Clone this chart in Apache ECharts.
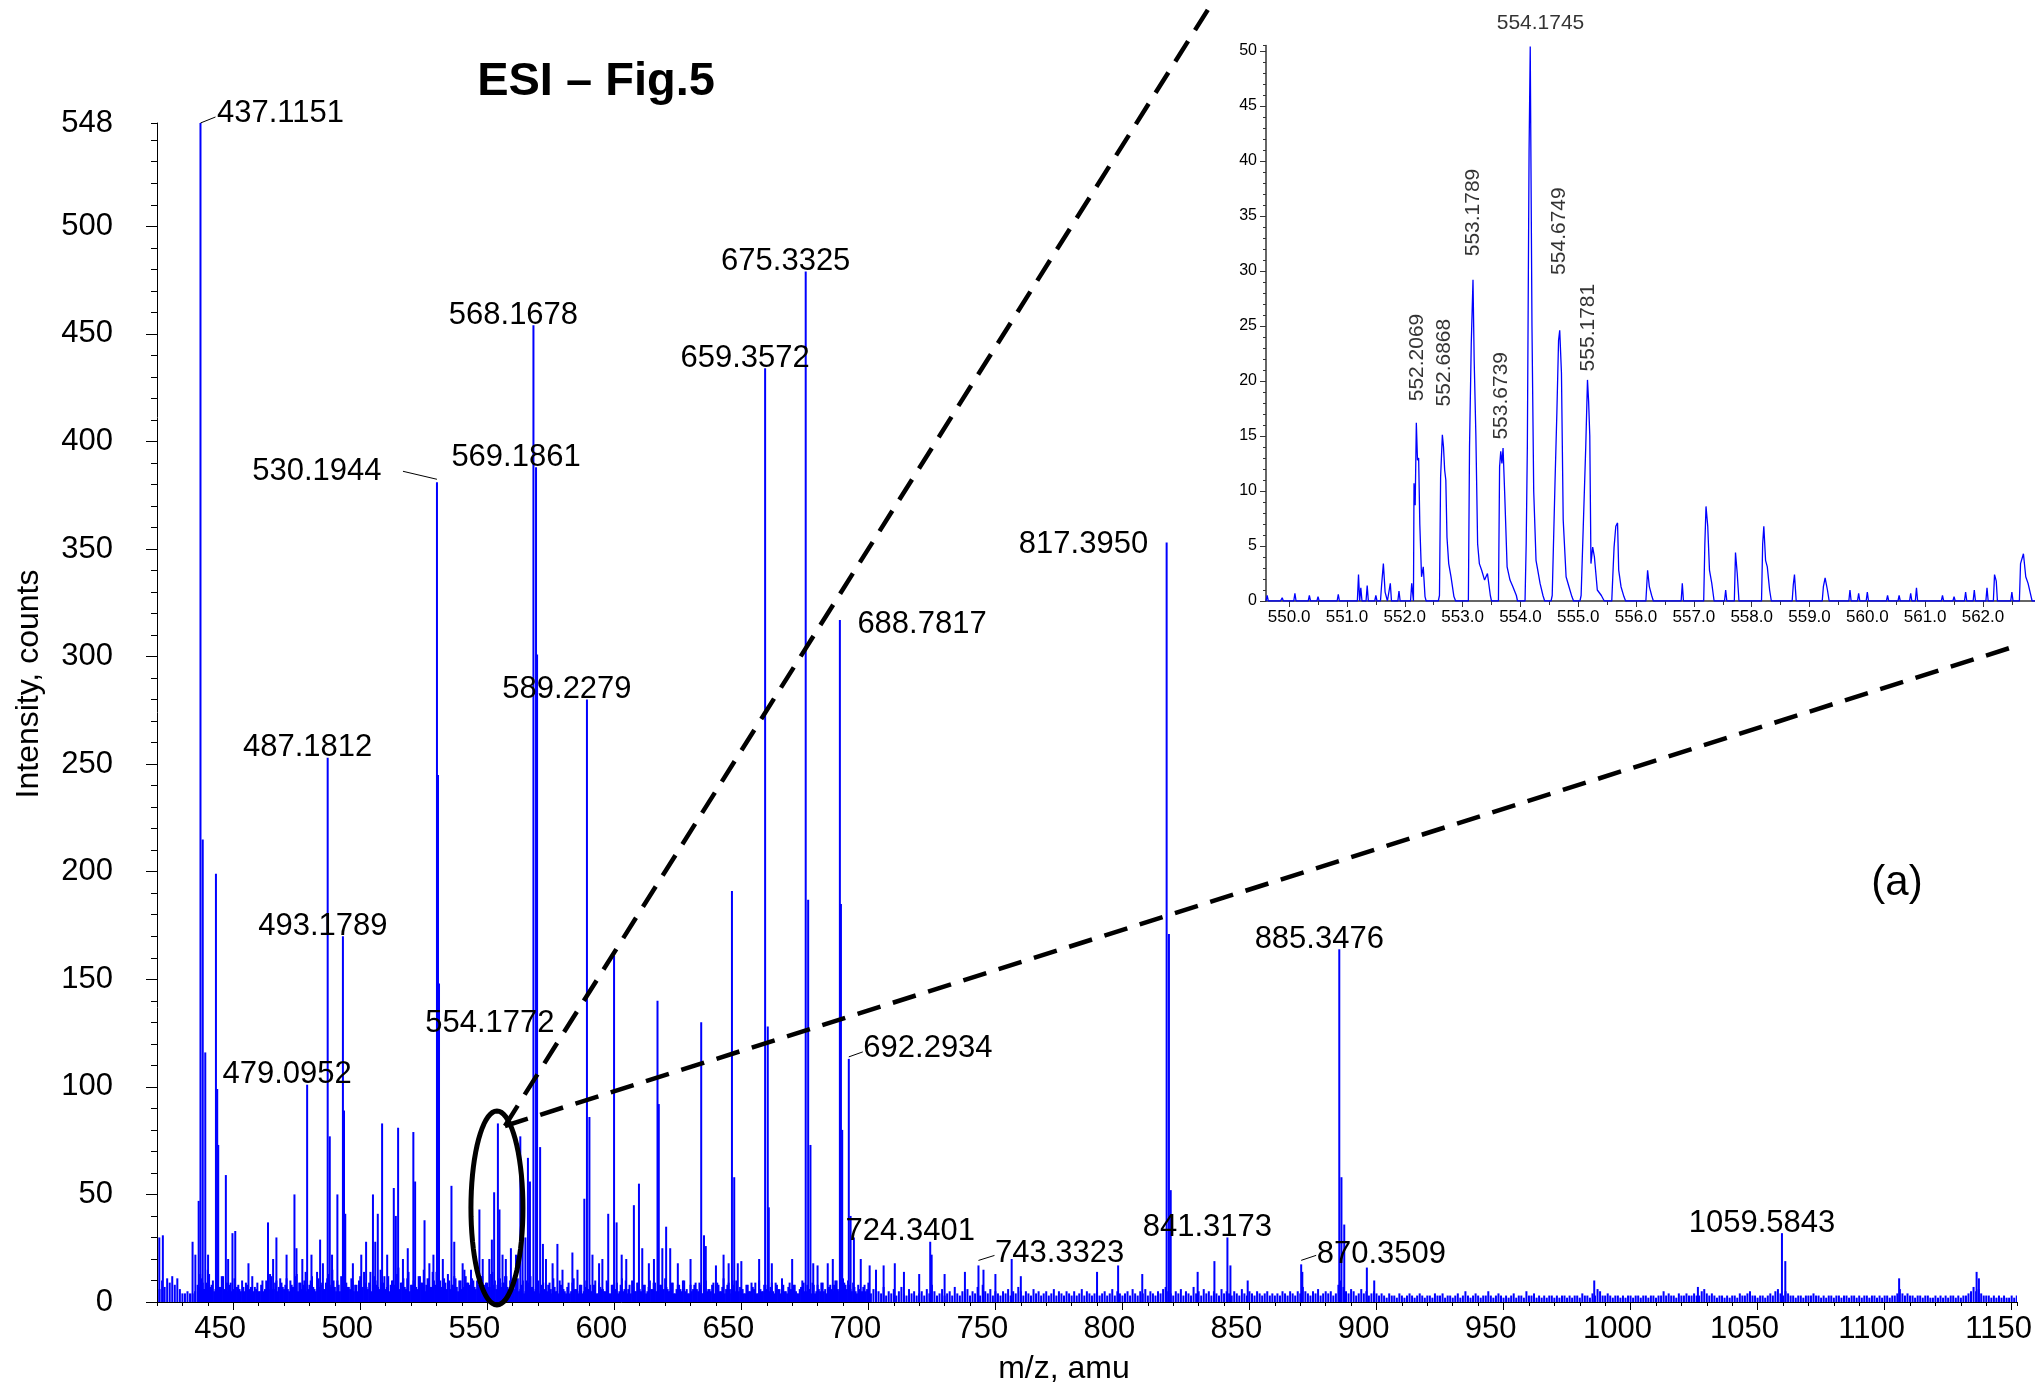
<!DOCTYPE html>
<html><head><meta charset="utf-8">
<script src="https://cdn.jsdelivr.net/npm/echarts@6/dist/echarts.min.js"></script>
<style>html,body{margin:0;padding:0;background:#fff}#c{width:2035px;height:1387px}</style>
</head><body><div id="c"></div>
<script>
// ---------- DATA ----------
const xMajorTicks = [450,500,550,600,650,700,750,800,850,900,950,1000,1050,1100,1150];
const yMajorTicks = [0,50,100,150,200,250,300,350,400,450,500];
const yTickLabels = [0,50,100,150,200,250,300,350,400,450,500,548];
const insetXTicks = [550,551,552,553,554,555,556,557,558,559,560,561,562];
const insetXMinor = [550.5,551.5,552.5,553.5,554.5,555.5,556.5,557.5,558.5,559.5,560.5,561.5,562.5];
const insetYTicks = [0,5,10,15,20,25,30,35,40,45,50];

// main spectrum: resolved peaks [m/z, counts]
const peaks = [
 [420.9,30],[434.0,28],[435.1,22],[436.4,47],[437.1151,548],[438.0,215],[439.0,116],[440.1,22],
 [443.2,199],[443.7,99],[444.1,73],[447.1,59],[449.7,32],[463.7,37],[467.0,30],[474.1,50],
 [479.0952,101],[484.2,29],[487.1812,253],[488.0,77],[491.0,50],[493.1789,170],[493.6,89],[494.1,41],
 [505.0,50],[506.9,41],[508.6,83],[513.2,53],[514.9,81],[520.9,79],[521.6,56],[525.3,38],
 [530.1944,381],[530.6,245],[531.0,148],[535.9,54],[546.9,43],[551.8,29],[552.7,51],[554.1772,83],[554.8,43],
 [563.0,77],[566.0,67],[566.8,56],[568.1678,454],[569.1861,388],[569.6,301],[570.8,72],[571.9,27],
 [577.6,27],[583.5,23],[588.2,48],[589.2279,280],[590.2,86],[597.6,41],[599.9,161],[600.9,37],
 [607.7,45],[609.7,55],[617.0,140],[617.5,92],[620.4,35],[634.2,130],[635.3,31],[646.3,191],[647.2,58],[648.6,18],
 [659.3572,434],[660.4,128],[660.8,44],[675.3325,479],[676.3,187],[677.2,73],[678.3,18],
 [688.7817,317],[689.2,185],[689.7,80],[692.2934,113],[693.0,40],[694.3,30],[700.5,17],[710.4,18],
 [724.3401,28],[724.9,22],[743.3323,17],[745.3,15],[756.4,20],[798.3,17],[807.8,13],
 [817.3950,353],[818.3,171],[819.0,52],[829.6,14],[836.2,19],[841.3173,30],[842.5,17],[849.3,10],
 [870.3509,17.5],[870.8,14],[885.3476,164],[886.2,58],[887.3,36],[896.2,16],[899.1,10],
 [985.7,10],[1026.5,7],[1059.5843,32],[1060.9,19],[1105.7,11],[1136.2,14],[1137.1,11]
];
// smaller spikes standing out of the baseline
const minorPeaks = [
 [422.3,31],[448.0,20],[450.8,33],[456.0,18],[465.7,20],[471.0,22],[474.9,25],[477.2,20],[480.8,22],
 [485.3,18],[488.9,22],[497.1,18],[500.4,22],[502.3,28],[505.9,28],[510.6,22],[514.0,40],[516.8,20],
 [518.7,25],[527.2,18],[528.8,22],[532.5,20],[537.0,28],[540.3,18],[543.6,15],[548.2,20],[550.8,20],
 [556.0,22],[557.3,20],[559.3,25],[561.3,22],[563.9,35],[565.0,30],[573.1,20],[575.7,18],[579.6,15],
 [585.5,15],[591.4,22],[594.0,18],[595.3,20],[602.9,22],[604.7,20],[611.0,25],[613.6,18],[615.6,20],
 [618.9,25],[622.0,25],[625.0,18],[630.0,20],[636.0,26],[640.0,17],[643.0,22],[645.0,18],[650.0,19],
 [657.0,20],[662.0,18],[670.0,20],[680.0,17],[684.0,18],[686.0,20],[697.0,20],[703.0,15],[706.0,17],
 [714.0,14],[720.0,13],[730.0,13],[738.0,14],[750.0,13],[760.0,12],[790.0,14]
];
const labeledMz = [437.1151,479.0952,487.1812,493.1789,530.1944,554.1772,568.1678,569.1861,589.2279,
 659.3572,675.3325,688.7817,692.2934,724.3401,743.3323,817.3950,841.3173,870.3509,885.3476,1059.5843];

// baseline noise, one value per m/z unit, starting at the given m/z
const noise421 = [6,10,7,11,9,12,8,11,6,4,4,5,4,4,5];
const noise436 = [
 8,13,9,6,15,7,10,6,9,7, 12,6,5,9,6,5,8,5,7,9, 5,7,5,6,5,8,5,10,6,12, 6,10,7,9,6,11,5,8,7,13,
 9,6,10,5,8,12,6,14,7,9, 6,11,8,15,7,10,5,9,12,7, 6,10,8,5,12,7,9,6,14,8, 10,7,15,9,6,12,8,10,7,16,
 9,11,6,14,8,10,7,12,9,15, 8,11,7,10,14,9,7,11,6,10, 8,12,7,10,6,15,9,8,11,7, 10,6,12,8,9,7,14,10,8,11,
 9,12,7,10,8];
const noiseHalf436 = [
 7,11,6,9,13,8,5,10,7,12,6,9, 8,5,11,7,6,10,5,8,6,12,7,9, 5,10,6,8,13,6,9,5,11,7,8,6,
 10,7,12,5,9,8,14,6,10,7,5,11, 8,6,9,13,7,10,5,8,12,6,9,7, 11,5,8,10,6,14,7,9,5,12,8,6,
 9,12,7,5,10,8,13,6,9,7,11,5, 8,10,6,12,9,5,11,7,14,8,6,10, 7,9,13,6,8,11,5,10,7,12,9,6,
 10,6,8,12,5,9,7,13,8,6,11,7, 9,12,6,10,
 6,9,5,8,4,10,6,7,5,9, 4,8,6,5,9,4,7,5,10,6, 5,7,4,9,6,5,8,4,7,6, 8,5,10,4,7,6,5,9,4,8,
 6,4,8,5,10,6,4,7,5,9, 5,8,4,7,6,9,5,4,8,6, 7,5,9,4,6,8,5,10,6,4, 5,8,6,9,4,7,5,6,8,4,
 9,5,7,4,8,6,10,5,4,7, 6,4,8,5,7,9,4,6,5,8, 4,7,5,9,6,4,8,5,7,6, 8,5,4,7,9,5,6,4,8,5,
 6,9,5,4,7,6,8,10,5,7, 9,6,8,5,7,4,6,5,8,6];
const noise561 = [
 8,11,6,10,5,9,12,7,6,10, 5,9,4,8,6,11,5,4,8,6, 4,9,5,11,6,4,8,5,10,6, 5,8,4,9,6,5,10,4,8,6,
 9,5,11,6,4,8,10,5,9,6, 4,8,5,10,6,9,5,8,4,11, 6,5,9,4,8,6,10,5,4,8, 6,9,5,8,4,10,6,5,9,4,
 8,5,11,6,9,4,8,10,5,6, 4,8,5,9,6,4,10,5,8,6, 5,9,4,8,6,11,5,4,9,6, 8,4,6,10,5,8,6,9,4,8,
 5,9,6,4,8,5,10,6,9,11, 8,10,6,9,5,8,4,7,5,9];
const noise701 = [
 4,6,3,5,4,7,3,5,4,6, 3,5,7,4,3,6,4,5,3,4, 5,3,6,4,8,5,3,4,6,3, 4,5,3,7,4,3,5,4,6,3,
 5,4,7,3,8,5,4,6,3,5, 4,3,5,4,6,3,5,4,7,5, 3,5,4,3,6,4,5,3,4,5, 3,4,6,3,5,4,3,5,4,3,
 5,3,4,6,3,5,4,3,4,5, 3,4,5,3,4,6,3,5,4,3, 4,5,3,6,4,3,5,4,6,3, 5,4,3,5,4,6,7,5,4,3,
 5,4,6,3,5,4,3,7,4,5, 3,6,4,5,3,5,4,3,6,4, 5,4,3,5,4,3,6,4,3,5, 4,3,5,4,3,4,5,3,4,3,
 4,3,5,4,3,5,4,3,5,4, 7,5,4,3,5,4,6,3,4,5, 4,5,3,4,8,10,7,5,4,6, 5,3,4,6,4,5,3,4,5,4];
const noise901 = [
 3,4,3,2,4,3,3,2,4,3, 2,3,4,3,2,3,4,3,2,3, 3,2,4,3,3,4,2,3,3,2, 3,4,2,3,5,3,2,3,4,3,
 2,3,3,5,3,2,3,4,3,2, 3,2,3,4,2,3,3,2,5,3, 3,4,2,3,2,3,2,3,3,2, 3,2,3,3,2,3,2,3,3,2,
 4,3,3,2,4,3,6,5,3,3, 4,3,2,3,3,2,3,2,3,3, 2,3,3,2,3,3,2,3,3,2, 3,3,5,3,4,3,3,2,4,3,
 3,4,3,3,4,3,3,5,6,4, 3,4,3,2,3,3,2,3,2,3, 3,2,4,3,3,4,5,3,3,2, 3,3,2,3,4,3,5,6,4,3,
 5,4,3,3,2,3,3,2,3,3, 3,4,3,3,2,3,2,3,3,2, 3,3,2,3,3,2,3,3,2,3, 2,3,3,2,3,3,2,3,2,3,
 3,2,3,3,4,6,4,3,4,3, 3,2,3,3,2,3,3,2,2,3, 2,3,2,3,2,3,3,2,3,2, 3,3,4,5,7,5,6,4,3,3,
 3,2,3,2,3,2,3,2,2,3, 2,3];
const noiseSegments = [[421,noise421],[436,noise436],[436.5,noiseHalf436],[561,noise561],[701,noise701],[901,noise901]];

// inset: profile spectrum 549.6 - 562.9 [m/z, counts]
const insetProfile = [
 [549.6,0],[549.62,0.5],[549.64,0],[549.85,0],[549.88,0.3],[549.9,0],[550.08,0],[550.1,0.7],[550.12,0],
 [550.33,0],[550.35,0.5],[550.37,0],[550.48,0],[550.5,0.4],[550.52,0],[550.83,0],[550.85,0.6],[550.87,0],
 [551.18,0],[551.2,2.4],[551.22,0],[551.24,1.2],[551.26,0],[551.33,0],[551.35,1.4],[551.37,0],
 [551.48,0],[551.5,0.5],[551.52,0],[551.58,0],[551.6,1.5],[551.63,3.4],[551.66,0.8],[551.7,0],
 [551.73,0],[551.75,1.6],[551.77,0],[551.88,0],[551.9,0.9],[551.92,0],[552.1,0],[552.12,1.6],[552.15,0],
 [552.16,10.7],[552.18,8.7],[552.2,16.2],[552.22,12.8],[552.24,13],[552.26,7],[552.29,2.2],[552.32,3.1],
 [552.35,0.4],[552.37,0],[552.58,0],[552.6,0.5],[552.62,11.3],[552.65,15.1],[552.67,14],[552.69,11.9],
 [552.71,11],[552.73,5.8],[552.76,3.4],[552.8,2.2],[552.85,0.4],[552.88,0],[553.1,0],[553.12,14],
 [553.15,23.4],[553.18,29.2],[553.2,22],[553.23,15],[553.26,5.2],[553.29,3.4],[553.33,2.8],[553.38,1.9],
 [553.43,2.5],[553.48,0.5],[553.5,0],[553.62,0],[553.64,12.2],[553.66,13.6],[553.68,12.5],[553.7,13.9],
 [553.73,9.5],[553.77,3.1],[553.82,1.9],[553.87,1.3],[553.93,0.5],[553.95,0],[554.08,0],[554.1,5.2],
 [554.12,14],[554.15,41],[554.17,50.4],[554.2,25],[554.23,10],[554.27,3.7],[554.3,2.8],[554.34,1.6],
 [554.39,0.5],[554.42,0],[554.53,0],[554.55,0.5],[554.6,11.1],[554.63,17],[554.66,23.7],[554.68,24.6],
 [554.71,20.7],[554.74,7.4],[554.79,2.2],[554.84,1.3],[554.89,0.4],[554.92,0],[555.03,0],[555.05,0.5],
 [555.13,14],[555.16,20.1],[555.18,18.1],[555.2,15],[555.22,3.4],[555.25,4.9],[555.28,4],[555.33,1],
 [555.4,0.5],[555.45,0],[555.58,0],[555.6,2.5],[555.62,4.9],[555.65,6.8],[555.68,7.1],[555.7,2.8],
 [555.74,1.3],[555.79,0.4],[555.82,0],[556.17,0],[556.2,2.8],[556.23,1.3],[556.27,0.5],[556.3,0],
 [556.78,0],[556.8,1.6],[556.82,0],[557.17,0],[557.19,5.2],[557.21,8.6],[557.24,6.8],[557.27,2.8],
 [557.31,1.6],[557.35,0],[557.53,0],[557.55,1.0],[557.57,0],[557.7,0],[557.72,4.4],[557.75,2.5],[557.78,0],
 [558.17,0],[558.19,5.2],[558.21,6.8],[558.24,3.7],[558.27,3.1],[558.31,1.0],[558.34,0],[558.7,0],
 [558.72,1.5],[558.74,2.4],[558.77,0],[559.22,0],[559.24,1.3],[559.27,2.1],[559.31,1],[559.34,0],
 [559.68,0],[559.7,1.0],[559.72,0],[559.83,0],[559.85,0.7],[559.87,0],[559.98,0],[560.0,0.8],[560.02,0],
 [560.33,0],[560.35,0.5],[560.37,0],[560.53,0],[560.55,0.5],[560.57,0],[560.73,0],[560.75,0.7],[560.77,0],
 [560.83,0],[560.85,1.2],[560.87,0],[561.28,0],[561.3,0.5],[561.32,0],[561.48,0],[561.5,0.4],[561.52,0],
 [561.68,0],[561.7,0.8],[561.72,0],[561.83,0],[561.85,1.0],[561.87,0],[562.05,0],[562.07,1.2],[562.09,0],
 [562.18,0],[562.2,2.4],[562.23,1.8],[562.25,0],[562.48,0],[562.5,0.8],[562.52,0],[562.63,0],[562.65,3.4],
 [562.7,4.3],[562.74,2.2],[562.78,1.6],[562.82,0.7],[562.85,0],[562.9,0]
];
const insetLabeledMz = [552.2069,552.6868,553.1789,553.6739,554.1745,554.6749,555.1781];

// ---------- STYLE / LAYOUT ----------
const FONT = 'Liberation Sans';
const BLUE = '#0000ff';
const CLEAR = 'rgba(0,0,0,0)';
const mainLabelPlace = {
  '437.1151': {position:'right', offset:[16,-10], leader:[0,0,15,-6]},
  '530.1944': {position:'left', offset:[-55,-11], leader:[0,-3,-34,-11]},
  '554.1772': {position:'top', offset:[-8,-84]},
  '688.7817': {position:'right', offset:[17,4]},
  '692.2934': {position:'right', offset:[14,-10], leader:[0,-2,14,-7]},
  '743.3323': {position:'right', offset:[16,-12], leader:[0,-5,16,-10]},
  '817.3950': {position:'left', offset:[-18,2]},
  '870.3509': {position:'right', offset:[15,-10], leader:[0,-4,15,-9]}
};
const defaultPlace = {position:'top', offset:[-20,6]};
const insetLabelPlace = {
  '552.2069': {dx:-2, gap:23}, '552.6868': {dx:1, gap:27}, '553.1789': {dx:6, gap:17},
  '553.6739': {dx:8, gap:0}, '554.1745': {horizontal:true, dx:10, gap:12},
  '554.6749': {dx:-2, gap:57}, '555.1781': {dx:2, gap:6}
};

// ---------- BUILD ----------
const noiseData = [];
noiseSegments.forEach(([start, arr]) => arr.forEach((v, i) => noiseData.push([start + i, v])));

const mainLabelData = labeledMz.map(m => {
  const p = peaks.find(q => Math.abs(q[0] - m) < 1e-6);
  const txt = m.toFixed(4);
  const pl = mainLabelPlace[txt] || defaultPlace;
  return {value:[p[0], p[1]], name:txt,
    label:{show:true, position:pl.position, distance:0, offset:pl.offset, formatter:txt,
      fontSize:31, fontFamily:FONT, color:'#000', opacity:1}};
});

const insetLabelData = insetLabeledMz.map(m => {
  const near = insetProfile.filter(q => Math.abs(q[0] - m) < 0.06);
  const top = Math.max.apply(null, near.map(q => q[1]));
  const txt = m.toFixed(4);
  const pl = insetLabelPlace[txt];
  const lab = pl.horizontal
    ? {show:true, position:'top', distance:pl.gap, offset:[pl.dx,0], formatter:txt, fontSize:21, fontFamily:FONT, color:'#000'}
    : {show:true, position:'top', distance:pl.gap, offset:[pl.dx,0], rotate:90, align:'left', verticalAlign:'middle',
       formatter:txt, fontSize:21, fontFamily:FONT, color:'#000'};
  return {value:[m, top], label:lab};
});

const axisBlack = {lineStyle:{color:'#000', width:1}};
const option = {
  animation:false,
  backgroundColor:'#fff',
  textStyle:{fontFamily:FONT},
  grid:[
    {left:157, top:123, width:1861, height:1179},
    {left:1266, top:45.5, width:769, height:555.5}
  ],
  xAxis:[
    {type:'value', gridIndex:0, min:420, max:1152, position:'bottom',
     axisLine:{show:true, ...axisBlack}, splitLine:{show:false},
     axisTick:{show:true, customValues:xMajorTicks, length:8, ...axisBlack},
     axisLabel:{customValues:xMajorTicks, formatter:v => String(v), fontSize:31, color:'#000', fontFamily:FONT, margin:12, padding:[0,26,0,0]}},
    {type:'value', gridIndex:0, min:420, max:1152, interval:10, position:'bottom',
     axisLine:{show:false}, splitLine:{show:false}, axisLabel:{show:false},
     axisTick:{show:true, length:4, ...axisBlack}},
    {type:'value', gridIndex:1, min:549.6, max:562.9, position:'bottom',
     axisLine:{show:true, lineStyle:{color:'#333', width:1.5}}, splitLine:{show:false},
     axisTick:{show:true, customValues:insetXTicks, length:6, lineStyle:{color:'#333'}},
     axisLabel:{customValues:insetXTicks, formatter:v => v.toFixed(1), fontSize:17, color:'#000', fontFamily:FONT, margin:8}},
    {type:'value', gridIndex:1, min:549.6, max:562.9, position:'bottom',
     axisLine:{show:false}, splitLine:{show:false}, axisLabel:{show:false},
     axisTick:{show:true, customValues:insetXMinor, length:4, lineStyle:{color:'#333'}}}
  ],
  yAxis:[
    {type:'value', gridIndex:0, min:0, max:548, position:'left',
     axisLine:{show:true, ...axisBlack}, splitLine:{show:false},
     axisTick:{show:true, customValues:yMajorTicks, length:11, ...axisBlack},
     axisLabel:{customValues:yTickLabels, fontSize:31, color:'#000', fontFamily:FONT, margin:44}},
    {type:'value', gridIndex:0, min:0, max:548, interval:10, position:'left', offset:0,
     axisLine:{show:false}, splitLine:{show:false}, axisLabel:{show:false},
     axisTick:{show:true, length:6, ...axisBlack}},
    {type:'value', gridIndex:1, min:0, max:50.5, position:'left',
     axisLine:{show:true, lineStyle:{color:'#333', width:1.5}}, splitLine:{show:false},
     axisTick:{show:true, customValues:insetYTicks, length:6, lineStyle:{color:'#333'}},
     axisLabel:{customValues:insetYTicks, fontSize:16, color:'#000', fontFamily:FONT, margin:9}},
    {type:'value', gridIndex:1, min:0, max:50.5, interval:1, position:'left', offset:0,
     axisLine:{show:false}, splitLine:{show:false}, axisLabel:{show:false},
     axisTick:{show:true, length:3, lineStyle:{color:'#333'}}}
  ],
  series:[
    {type:'bar', name:'noise', xAxisIndex:0, yAxisIndex:0, data:noiseData, barWidth:2, barGap:'-100%',
     itemStyle:{color:BLUE}, silent:true},
    {type:'bar', name:'minorPeaks', xAxisIndex:0, yAxisIndex:0, data:minorPeaks, barWidth:2, barGap:'-100%',
     itemStyle:{color:BLUE}, silent:true},
    {type:'bar', name:'peaks', xAxisIndex:0, yAxisIndex:0, data:peaks, barWidth:2, barGap:'-100%',
     itemStyle:{color:BLUE}, silent:true},
    {type:'scatter', name:'peakLabels', xAxisIndex:0, yAxisIndex:0, data:mainLabelData,
     symbolSize:1, itemStyle:{color:CLEAR}, silent:true, z:10},
    {type:'line', name:'inset', xAxisIndex:2, yAxisIndex:2, data:insetProfile, symbol:'none',
     lineStyle:{color:BLUE, width:1.3}, silent:true},
    {type:'scatter', name:'insetLabels', xAxisIndex:2, yAxisIndex:2, data:insetLabelData,
     symbolSize:1, itemStyle:{color:CLEAR}, silent:true, z:10}
  ]
};

const chart = echarts.init(document.getElementById('c'), null, {renderer:'canvas'});
chart.setOption(option);

// annotations
const px = (m, v) => chart.convertToPixel({xAxisIndex:0, yAxisIndex:0}, [m, v]);
const g = [];
g.push({type:'text', x:596, y:82, z:100, style:{text:'ESI – Fig.5', fontSize:47, fontWeight:'bold', fontFamily:FONT, fill:'#000', align:'center', verticalAlign:'middle'}});
g.push({type:'text', x:1897, y:883, z:100, style:{text:'(a)', fontSize:42, fontFamily:FONT, fill:'#000', align:'center', verticalAlign:'middle'}});
g.push({type:'text', x:1064, y:1369, z:100, style:{text:'m/z, amu', fontSize:32, fontFamily:FONT, fill:'#000', align:'center', verticalAlign:'middle'}});
g.push({type:'text', x:29, y:684, rotation:Math.PI/2, z:100, style:{text:'Intensity, counts', fontSize:32, fontFamily:FONT, fill:'#000', align:'center', verticalAlign:'middle'}});
labeledMz.forEach(m => {
  const txt = m.toFixed(4);
  const pl = mainLabelPlace[txt];
  if (pl && pl.leader) {
    const p = peaks.find(q => Math.abs(q[0] - m) < 1e-6);
    const c = px(p[0], p[1]);
    const L = pl.leader;
    g.push({type:'line', z:100, shape:{x1:c[0]+L[0], y1:c[1]+L[1], x2:c[0]+L[2], y2:c[1]+L[3]}, style:{stroke:'#000', lineWidth:1}});
  }
});
// ellipse around the zoomed region
const ec = px(553.8, 43.7);
const pts = [];
for (let k = 0; k < 72; k++) { const t = k / 72 * Math.PI * 2; pts.push([ec[0] + 26 * Math.cos(t), ec[1] + 97 * Math.sin(t)]); }
g.push({type:'polygon', z:100, shape:{points:pts}, style:{fill:'none', stroke:'#000', lineWidth:5}});
const s0 = [ec[0] + 8, ec[1] - 82];
g.push({type:'line', z:100, shape:{x1:s0[0], y1:s0[1], x2:1214, y2:0}, style:{stroke:'#000', lineWidth:4.5, lineDash:[24,13]}});
g.push({type:'line', z:100, shape:{x1:s0[0], y1:s0[1], x2:2016, y2:646}, style:{stroke:'#000', lineWidth:4.5, lineDash:[24,13]}});
chart.setOption({graphic:g});
</script></body></html>
